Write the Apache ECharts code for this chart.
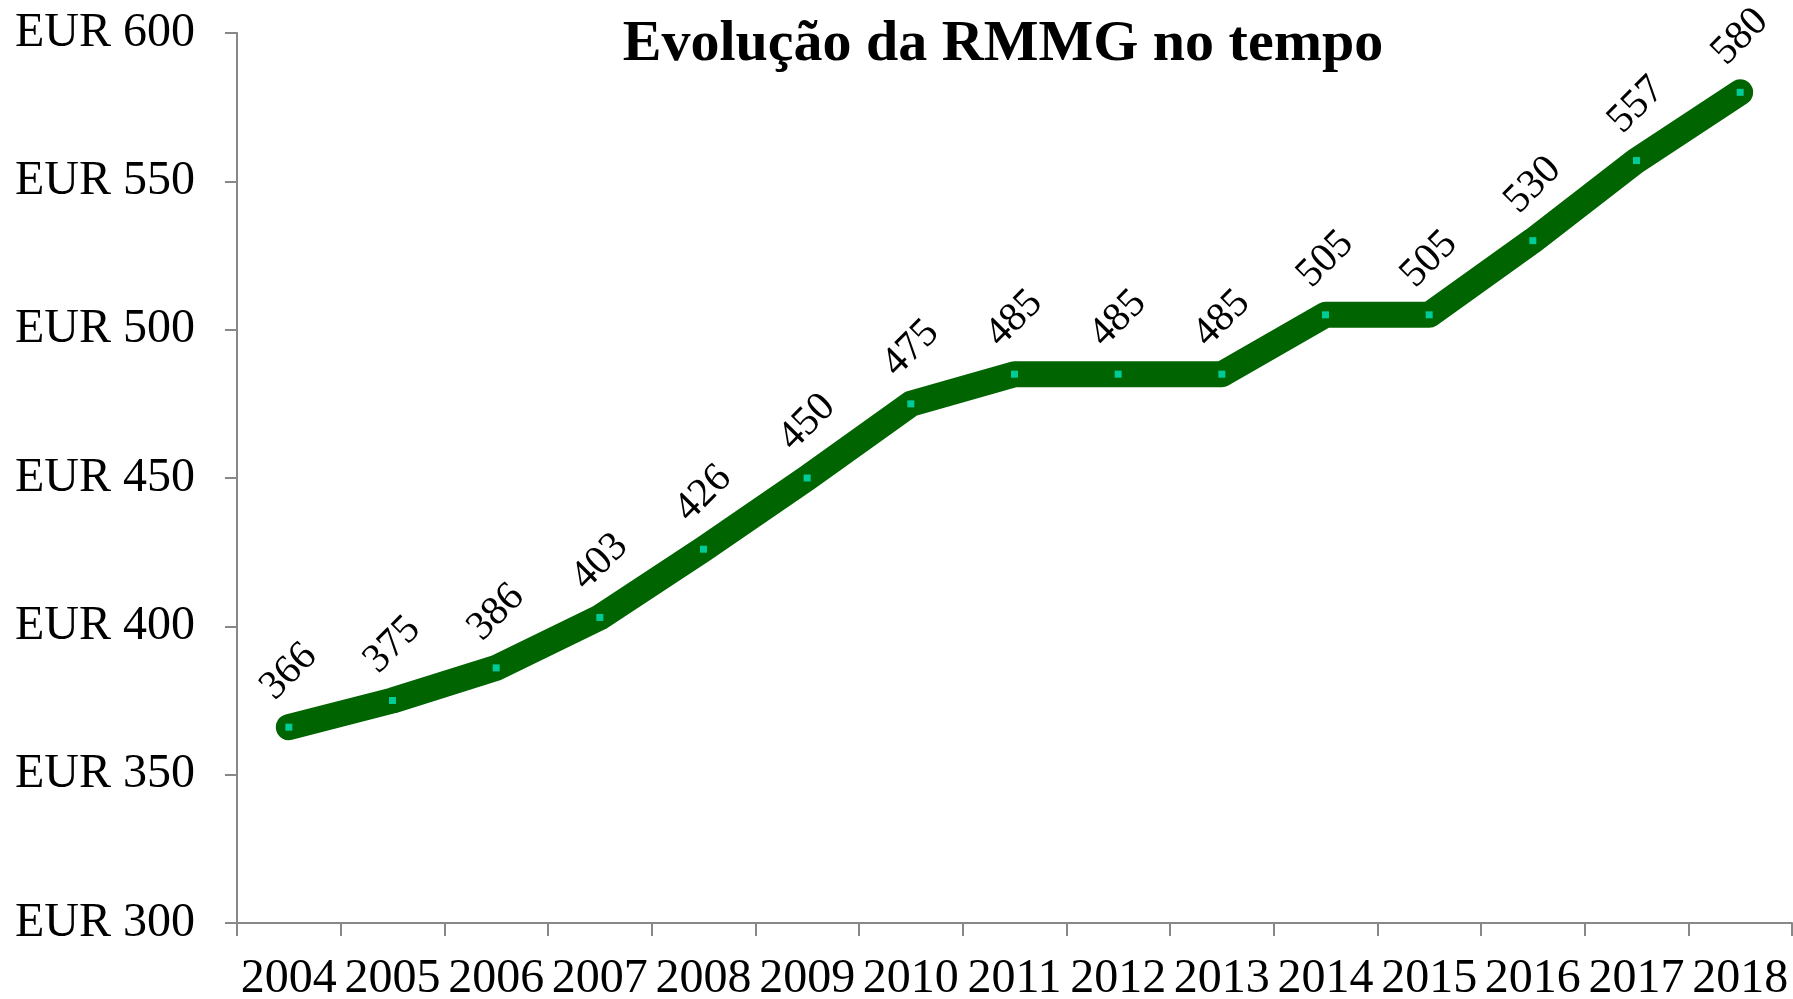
<!DOCTYPE html>
<html>
<head>
<meta charset="utf-8">
<script src="https://cdn.jsdelivr.net/npm/echarts@6/dist/echarts.min.js"></script>
<style>
  html, body { margin: 0; padding: 0; background: #fff; overflow: hidden; }
  #chart { width: 1793px; height: 999px; }
</style>
</head>
<body>
<div id="chart"></div>
<script>
// dados
const years = ["2004", "2005", "2006", "2007", "2008", "2009", "2010", "2011", "2012", "2013", "2014", "2015", "2016", "2017", "2018"];
const rmmg = [366, 375, 386, 403, 426, 450, 475, 485, 485, 485, 505, 505, 530, 557, 580];
const yTicks = [300, 350, 400, 450, 500, 550, 600];

const font = "Liberation Serif";
const chart = echarts.init(document.getElementById("chart"));

chart.setOption({
  animation: false,
  title: {
    text: "Evolução da RMMG no tempo",
    left: 998,
    top: 11,
    textAlign: "center",
    textStyle: { fontFamily: font, fontWeight: "bold", fontSize: 58, color: "#000" }
  },
  // sem ajuste automático dos limites (v6)
  grid: { left: 237, right: 1, top: 33, bottom: 76, containLabel: false, outerBoundsMode: "none" },
  xAxis: {
    type: "category",
    data: years,
    boundaryGap: true,
    axisLine: { lineStyle: { color: "#888", width: 2 } },
    axisTick: { show: true, length: 13, lineStyle: { color: "#888", width: 2 } },
    axisLabel: { fontFamily: font, fontSize: 48, color: "#000", margin: 32, interval: 0 }
  },
  yAxis: {
    type: "value",
    min: yTicks[0],
    max: yTicks[yTicks.length - 1],
    interval: 50,
    splitLine: { show: false },
    axisLine: { show: true, lineStyle: { color: "#888", width: 2 } },
    axisTick: { show: true, length: 12, lineStyle: { color: "#888", width: 2 } },
    axisLabel: {
      fontFamily: font, fontSize: 48, color: "#000", margin: 42,
      formatter: v => "EUR " + v
    }
  },
  series: [
    {
      type: "line",
      data: rmmg,
      smooth: false,
      symbol: "rect",
      symbolSize: 7,
      itemStyle: { color: "#00CC99" },
      lineStyle: { color: "#006400", width: 26, cap: "round", join: "round" },
      label: {
        show: true,
        position: "top",
        distance: 52,
        rotate: 45,
        align: "center",
        verticalAlign: "middle",
        fontFamily: font,
        fontSize: 41,
        color: "#000"
      },
      z: 3
    }
  ]
});
</script>
</body>
</html>
